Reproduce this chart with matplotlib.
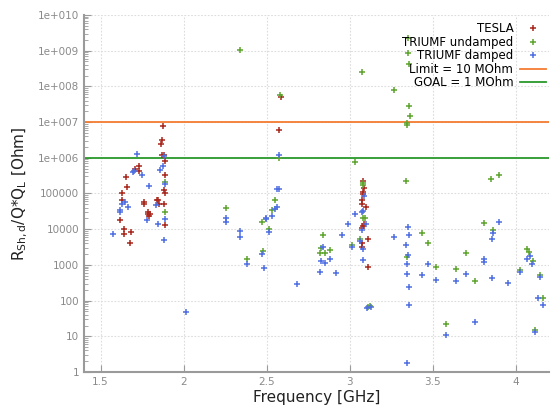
import matplotlib
matplotlib.use("Agg")
import matplotlib.pyplot as plt
from matplotlib.ticker import FixedLocator, FuncFormatter, LogLocator, NullFormatter
import numpy as np

# TESLA cavity modes
tesla_f = [1.875, 1.873, 1.866, 1.869, 1.881, 1.886, 1.733, 1.707, 1.731, 1.655,
           1.886, 1.657, 1.881, 1.886, 1.628, 1.628, 1.837, 1.849, 1.759, 1.763,
           1.881, 1.787, 1.797, 1.783, 1.793, 1.619, 1.886, 1.639, 1.681, 1.640,
           1.679, 1.851,
           2.584, 2.577, 3.080, 3.089, 3.080, 3.080, 3.076, 3.076, 3.096, 3.080,
           3.089, 3.076, 3.113, 3.076, 3.076, 3.113]
tesla_r = [7.8e6, 3.2e6, 2.4e6, 1.2e6, 1.2e6, 8.1e5, 5.9e5, 4.9e5, 4.4e5, 2.9e5,
           3.2e5, 1.5e5, 1.25e5, 1.05e5, 1.03e5, 6.6e4, 6.6e4, 6.5e4, 5.7e4, 5.0e4,
           5.2e4, 3.1e4, 2.7e4, 2.7e4, 2.3e4, 1.85e4, 1.3e4, 1.0e4, 8.2e3, 7.2e3,
           4.1e3, 5.1e4,
           5.0e7, 6.1e6, 2.3e5, 1.4e5, 1.08e5, 9.5e4, 6.6e4, 5.0e4, 4.3e4, 1.25e4,
           1.37e4, 1.06e4, 5.2e3, 4.1e3, 3.2e3, 870]

# TRIUMF cavity, undamped
und_f = [1.886, 1.886, 2.253, 2.337, 2.578, 2.574, 2.552, 2.534, 2.470, 2.514,
         2.380, 2.480, 3.354, 3.351, 3.360, 3.076, 3.269, 3.360, 3.363, 3.348,
         3.348, 3.032, 3.342, 3.080, 3.080, 3.080, 3.092, 3.060, 3.014, 2.837,
         2.825, 2.819, 2.855, 2.881, 3.113, 3.125, 3.345, 3.854, 3.898, 3.811,
         3.863, 3.438, 3.470, 3.699, 3.522, 3.639, 3.757, 3.578, 4.028, 4.070,
         4.083, 4.104, 4.145, 4.164, 4.120]
und_r = [2.1e5, 3.0e4, 4.0e4, 1.07e9, 5.7e7, 1.0e6, 6.7e4, 3.5e4, 1.6e4, 9.9e3,
         1.5e3, 2.5e3, 2.2e9, 8.5e8, 4.3e8, 2.6e8, 7.9e7, 2.9e7, 1.5e7, 9.4e6,
         8.3e6, 7.6e5, 2.3e5, 2.0e5, 1.7e5, 2.1e4, 2.0e4, 5.3e3, 3.6e3, 6.9e3,
         2.9e3, 2.1e3, 2.1e3, 2.6e3, 67, 71, 1.7e3, 2.5e5, 3.2e5, 1.46e4,
         9.5e3, 8.0e3, 4.2e3, 2.2e3, 890, 780, 350, 22, 730, 2.7e3,
         2.3e3, 1.3e3, 520, 118, 14.7]

# TRIUMF cavity, damped
dmp_f = [1.721, 1.881, 1.878, 1.861, 1.693, 1.701, 1.751, 1.793, 1.886, 1.628,
         1.645, 1.664, 1.616, 1.620, 1.836, 1.777, 1.849, 1.886, 1.572, 1.881,
         2.012,
         2.577, 2.564, 2.572, 2.564, 2.550, 2.532, 2.253, 2.253, 2.494, 2.498,
         2.514, 2.337, 2.337, 2.380, 2.470, 2.482, 2.681,
         3.084, 3.080, 3.076, 3.096, 3.076, 3.062, 3.080, 3.080, 3.032, 2.990,
         3.014, 2.954, 2.837, 2.825, 2.855, 2.881, 2.819, 2.916, 3.108, 3.131,
         3.354, 3.360, 3.342, 3.354, 3.348, 3.348, 3.360, 3.361, 3.345, 3.269,
         3.898, 3.863, 3.855, 3.470, 3.438, 3.522, 3.639, 3.699, 3.811, 3.811,
         3.855, 3.954, 3.578, 3.757, 4.028, 4.084, 4.070, 4.101, 4.145, 4.133,
         4.164, 4.120]
dmp_r = [1.25e6, 1.1e6, 6.0e5, 4.6e5, 4.1e5, 4.2e5, 3.3e5, 1.6e5, 1.8e5, 5.2e4,
         5.7e4, 4.2e4, 3.1e4, 3.4e4, 4.8e4, 1.8e4, 1.4e4, 1.9e4, 7.5e3, 5.1e3,
         49,
         1.17e6, 1.3e5, 1.3e5, 4.2e4, 3.6e4, 2.4e4, 2.1e4, 1.6e4, 1.9e4, 2.0e4,
         8.2e3, 8.9e3, 6.2e3, 1.06e3, 2.0e3, 820, 290,
         8.5e4, 3.3e4, 3.0e4, 1.4e4, 9.5e3, 4.7e3, 2.7e3, 1.4e3, 2.6e4, 1.37e4,
         3.2e3, 7.0e3, 3.2e3, 1.26e3, 1.1e3, 1.46e3, 650, 580, 61, 67,
         1.17e4, 6.9e3, 3.5e3, 1.9e3, 1.04e3, 570, 245, 74, 1.75, 6.2e3,
         1.6e4, 8.0e3, 5.2e3, 1.06e3, 520, 370, 350, 545, 1.5e3, 1.23e3,
         420, 320, 10.7, 25, 630, 1.74e3, 1.44e3, 1.06e3, 450, 118,
         75, 13]

limit_r = 1e7
goal_r = 1e6
x_ticks = [1.5, 2, 2.5, 3, 3.5, 4]
y_ticks = [10.0 ** k for k in range(0, 11)]


def gnuplot_fmt(v, pos):
    k = int(round(np.log10(v)))
    if k < 6:
        return str(int(round(v)))
    return f"1e+{k:03d}"


fig = plt.figure(figsize=(5.56, 4.05), dpi=100)
ax = fig.add_axes([0.151, 0.0815, 0.836, 0.8815])

grey = "#9a9a9a"
mk = dict(marker="+", linestyle="none", ms=3.8, mew=1.1, zorder=3)
ax.plot(tesla_f, tesla_r, color="#a8281e", label="TESLA", **mk)
ax.plot(und_f, und_r, color="#5ea42e", label="TRIUMF undamped", **mk)
ax.plot(dmp_f, dmp_r, color="#4f6fe0", label="TRIUMF damped", **mk)
ax.axhline(limit_r, color="#f47c30", lw=1.3, label="Limit = 10 MOhm", zorder=2)
ax.axhline(goal_r, color="#2a9a2a", lw=1.3, label="GOAL = 1 MOhm", zorder=2)

ax.set_yscale("log")
ax.set_xlim(1.4, 4.2)
ax.set_ylim(1, 1e10)
ax.xaxis.set_major_locator(FixedLocator(x_ticks))
ax.yaxis.set_major_locator(FixedLocator(y_ticks))
ax.yaxis.set_minor_locator(LogLocator(base=10, subs=np.arange(2, 10), numticks=20))
ax.yaxis.set_minor_formatter(NullFormatter())
ax.yaxis.set_major_formatter(FuncFormatter(gnuplot_fmt))
ax.xaxis.set_major_formatter(FuncFormatter(lambda v, p: f"{v:g}"))

ax.grid(True, which="major", color="#dcdcdc", linestyle=(0, (1.5, 1.5)), linewidth=0.8)
for side in ["top", "right"]:
    ax.spines[side].set_visible(False)
for side in ["left", "bottom"]:
    ax.spines[side].set_color(grey)
    ax.spines[side].set_linewidth(1.5)
ax.tick_params(which="major", direction="in", length=5, color=grey, labelcolor="#8a8a8a", labelsize=7.5)
ax.tick_params(which="minor", direction="in", length=3, color=grey)
ax.tick_params(axis="x", which="minor", bottom=False)

ax.set_xlabel("Frequency [GHz]", fontsize=11, color="#222222", labelpad=2)
ax.set_ylabel(r"R$_{\mathrm{Sh,d}}$/Q*Q$_{\mathrm{L}}$ [Ohm]", fontsize=11, color="#222222", labelpad=6)

ax.legend(loc="upper right", bbox_to_anchor=(1.01, 1.0), frameon=False, markerfirst=False,
          fontsize=8.5, handlelength=2.2, handletextpad=0.6, labelspacing=0.05,
          borderaxespad=0.2)

fig.savefig("out.png", dpi=100)
